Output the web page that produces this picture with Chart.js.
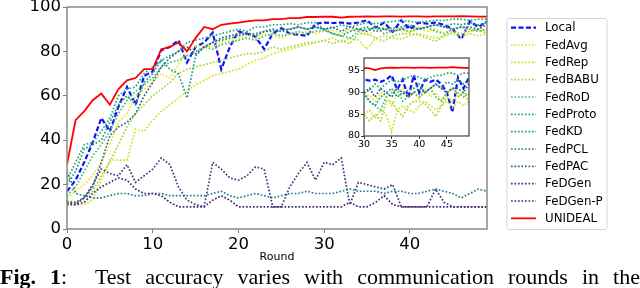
<!DOCTYPE html>
<html>
<head>
<meta charset="utf-8">
<script src="https://cdn.jsdelivr.net/npm/chart.js@4/dist/chart.umd.min.js"></script>
<style>
  body { margin: 0; background: #fff; }
  #wrap { position: relative; width: 640px; height: 288px; overflow: hidden; }
  #main { position: absolute; left: 0; top: 0; }
  #inset { position: absolute; left: 338px; top: 50px; }
  #cap {
    position: absolute; left: 0; top: 266px; width: 640px;
    font-family: "Liberation Serif", "DejaVu Serif", serif; font-size: 22px; line-height: 22px;
    text-align: justify; text-align-last: justify; white-space: nowrap; color: #000;
  }
</style>
</head>
<body>
<div id="wrap">
  <canvas id="main" width="640" height="265"></canvas>
  <canvas id="inset" width="136" height="104"></canvas>
  <div id="cap"><b>Fig. 1</b>:&nbsp; Test accuracy varies with communication rounds in the</div>
</div>
<script>
// data
const rounds = [0,1,2,3,4,5,6,7,8,9,10,11,12,13,14,15,16,17,18,19,20,21,22,23,24,25,26,27,28,29,30,31,32,33,34,35,36,37,38,39,40,41,42,43,44,45,46,47,48,49]
const xTicks = [0, 10, 20, 30, 40]
const yTicks = [0, 20, 40, 60, 80, 100]
const insetXTicks = [30, 35, 40, 45]
const insetYTicks = [80, 85, 90, 95]

const names = ["Local","FedAvg","FedRep","FedBABU","FedRoD","FedProto","FedKD","FedPCL","FedPAC","FeDGen","FeDGen-P","UNIDEAL"]
const colors = ["#1010ff","#f2e424","#d2e21b","#9fda3a","#4ac16d","#27ad81","#1f9a8a","#25838e","#33638d","#453781","#482475","#ff0000"]

const local = [17,22,30,39,50,44,55,64,56,69,71,80.5,82,85,75,82,84,88.5,72,82,89,88,86.5,81,88,90.5,88,87.5,87,92.5,93,92.8,93,92.5,93,94,90.7,93,88.8,94,90,93,92.5,93,92,90,85.5,93.5,91,93.5]
const fedAvg = [14,17,20,24,30,38,48,52,60,63,66,70,68,74,80,82,83,82,84,85,86,87,86,88,87,86,88,88,89,88,89,89.5,88,90,89,87,90,91,89,90,88.5,91,89,90,88,90,91,89,90,89.5]
const fedRep = [12,11,11,13,22,31,31,31,45,44,49,53,56,59,62,65,67,69,70,71,72,74,76,77,79,80,81,82,83,84,85,86,84,86,85,81,86,87,86,85.5,87,88,87,86,87,88,86.5,88,87,88]
const fedBabu = [13,12,14,17,24,30,38,46,52,56,60,63,66,70,72,73,74,75,76,77,78,79,79,80,82,81,82,83,84,84,85,83.5,85,83.5,88,88,86,84.5,87,88,88,87.5,86,84.5,87,89,88,89,90,88]
const fedRod = [15,19,26,33,38,44,52,58,62,65,68,73,75,76,78,80,82,81,83,84,85,86,85,87,88,87,88,89,88,89,89.5,88,87,86,89,90,91,88,89,90,89,90,91,89,88,90,91,90,89,90]
const fedProto = [22,30,38,39,44,50,60,63,64,70,73,76,78,80,84,85,86,87,88,89,90,89,91,91,92,92,92.5,92,93,93,90,90.5,92,91,92,93,92.5,93,93.5,94,93.5,93,93.5,94,94,94.5,94.5,94,94.5,94.5]
const fedKd = [20,26,36,38,40,48,56,60,56,66,70,76,72,70,59,78,82,84,85,86,87,88,88,89,89,90,90,91,90,91,90,88,87,89,90,91,89,90,90.5,91,92,90,91,92,91,92.5,92,93,92,93]
const fedPcl = [26,16,15,14,14,15,16,16,15,15,16,16,15,15,15,15,15,16,17,15,14,15,16,15,14,15,16,16,17,16,16,16,17,18,17,17,17,16,17,17,16,16,17,18,17,16,14,16,18,17]
const fedPac = [12,12,14,19,30,42,46,48,52,60,66,73,77,80,82,79,82,84,86,87,88,88,87,89,90,89,90,91,90,91,90,91,89,91,90,89,91,90,89,90,91,90,91,92,91,90,91,91,90,92]
const feDGen = [12,11,14,20,27,25,24,29,21,24,27,32,29,19,13,11,10,30,27,23,22,24,28,27,10,10,19,25,30,22,30,29,32,11,21,20,19,18,20,10,10,10,10,18,12,10,10,10,10,10]
const feDGenP = [11,11,12,16,19,21,23,22,18,16,16,15,12,10,10,10,10,13,15,13,10,10,10,10,10,10,10,10,10,10,10,10,10,12,10,10,12,15,11,10,10,10,10,10,10,10,10,10,10,10]
const unideal = [29,49,53,58,61,56,63,67,68,72,72,81,82,84,80,86,91,90,92,92.5,93,93.5,94,94,94.5,94.5,95,95,95.5,95.5,95.7,95.6,95.2,95.6,95.7,95.8,95.7,95.8,95.8,95.7,95.8,95.8,95.7,95.8,95.8,95.8,95.9,95.8,95.7,95.7]

const series = [local,fedAvg,fedRep,fedBabu,fedRod,fedProto,fedKd,fedPcl,fedPac,feDGen,feDGenP,unideal]

function dashOf(i){
  if(i==0) return [5,2.5]
  if(i==names.length-1) return []
  return [1.7,1.8]
}
function widthOf(i){
  if(i==0) return 2.2
  if(i==names.length-1) return 1.8
  return 1.7
}
function makeSets(){
  let out = []
  for(let i=0;i<series.length;i++){
    out.push({
      label: names[i],
      data: series[i].map((v,j)=>({x: rounds[j], y: v})),
      borderColor: colors[i],
      borderWidth: widthOf(i),
      borderDash: dashOf(i),
      pointRadius: 0,
      tension: 0,
      fill: false,
      order: series.length - i //later ones on top like matplotlib
    })
  }
  return out
}

const font = "DejaVu Sans"

// frame + legend drawn by hand
const framePlugin = {
  id: "frame",
  afterDraw(chart, args, opts){
    const ctx = chart.ctx, a = chart.chartArea
    ctx.save()
    ctx.strokeStyle = opts.color
    ctx.lineWidth = opts.width
    ctx.setLineDash([])
    ctx.strokeRect(a.left, a.top, a.right-a.left, a.bottom-a.top)
    ctx.restore()
  }
}
const insetBg = {
  id: "insetBg",
  beforeDraw(chart){
    const ctx = chart.ctx, a = chart.chartArea
    ctx.save()
    ctx.fillStyle = "#fff"
    ctx.fillRect(a.left, a.top, a.right-a.left, a.bottom-a.top)
    ctx.restore()
  }
}
const legendPlugin = {
  id: "myLegend",
  afterDraw(chart){
    const ctx = chart.ctx
    ctx.save()
    ctx.setLineDash([])
    ctx.fillStyle = "rgba(255,255,255,0.8)"
    ctx.strokeStyle = "#d6d6d6"
    ctx.lineWidth = 1
    ctx.beginPath()
    ctx.roundRect(507, 18.5, 100, 211, 2)
    ctx.fill()
    ctx.stroke()
    ctx.font = "11.8px " + font
    ctx.textBaseline = "middle"
    chart.data.datasets.forEach((ds, i) => {
      let y = 27.7 + i*17.33
      ctx.strokeStyle = ds.borderColor
      ctx.lineWidth = ds.borderWidth
      ctx.setLineDash(ds.borderDash)
      ctx.beginPath()
      ctx.moveTo(511, y)
      ctx.lineTo(536, y)
      ctx.stroke()
      ctx.setLineDash([])
      ctx.fillStyle = "#000"
      ctx.fillText(ds.label, 545, y + 0.5)
    })
    ctx.restore()
  }
}

function axis(min, max, ticks, size, extra){
  return Object.assign({
    type: "linear", min: min, max: max,
    afterBuildTicks: (s) => { s.ticks = ticks.map(v => ({value: v})) },
    ticks: { color: "#000", font: {family: font, size: size}, padding: 2, maxRotation: 0, autoSkip: false },
    grid: { drawOnChartArea: false, color: "#808080", tickLength: 4, lineWidth: 1 },
    border: { display: false }
  }, extra || {})
}

const mainChart = new Chart(document.getElementById("main"), {
  type: "line",
  data: { datasets: makeSets() },
  options: {
    responsive: false, animation: false, devicePixelRatio: 1,
    layout: { padding: { left: 0, right: 153, top: 7, bottom: 0 } },
    plugins: { legend: { display: false }, tooltip: { enabled: false }, frame: { color: "#8a8a8a", width: 1.5 } },
    scales: {
      x: axis(0, 49, xTicks, 16.5, {
        title: { display: true, text: "Round", color: "#000", font: {family: font, size: 11}, padding: {top: 0, bottom: 1} },
        afterFit: (s) => { s.height = 36; s.paddingLeft = 0; s.paddingRight = 0 }
      }),
      y: axis(0, 100, yTicks, 16.5, {
        afterFit: (s) => { s.width = 67; s.paddingTop = 0; s.paddingBottom = 0 }
      })
    }
  },
  plugins: [framePlugin, legendPlugin]
})

const insetChart = new Chart(document.getElementById("inset"), {
  type: "line",
  data: { datasets: makeSets() },
  options: {
    responsive: false, animation: false, devicePixelRatio: 1,
    layout: { padding: { left: 0, right: 5, top: 8, bottom: 0 } },
    plugins: { legend: { display: false }, tooltip: { enabled: false }, frame: { color: "#444", width: 1.2 } },
    scales: {
      x: axis(30, 49, insetXTicks, 9.5, {
        grid: { drawOnChartArea: false, color: "#444", tickLength: 3, lineWidth: 1 },
        ticks: { color: "#000", font: {family: font, size: 9.5}, padding: 0, maxRotation: 0, autoSkip: false },
        afterFit: (s) => { s.height = 18; s.paddingLeft = 0; s.paddingRight = 0 }
      }),
      y: axis(80, 98, insetYTicks, 9.5, {
        grid: { drawOnChartArea: false, color: "#444", tickLength: 3, lineWidth: 1 },
        ticks: { color: "#000", font: {family: font, size: 9.5}, padding: 1, maxRotation: 0, autoSkip: false },
        afterFit: (s) => { s.width = 26; s.paddingTop = 0; s.paddingBottom = 0 }
      })
    }
  },
  plugins: [insetBg, framePlugin]
})
</script>
</body>
</html>
